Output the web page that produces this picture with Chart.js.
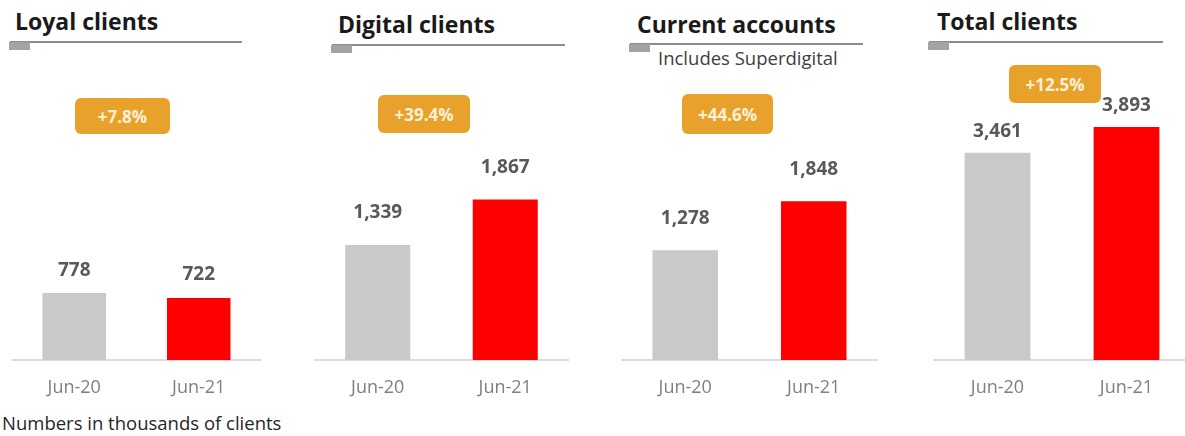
<!DOCTYPE html>
<html lang="en">
<head>
<meta charset="UTF-8">
<title>Clients - Jun-20 vs Jun-21</title>
<script src="https://cdn.jsdelivr.net/npm/chart.js"></script>
<style>
    html, body { margin: 0; padding: 0; background: #fff; }
    body {
        width: 1185px; height: 436px;
        position: relative; overflow: hidden;
        font-family: "Open Sans", sans-serif;
    }
    .title {
        position: absolute; font-size: 23px; font-weight: 700;
        line-height: 23px; color: #1a1a1a; white-space: nowrap;
    }
    .rule { position: absolute; height: 2px; background: #8c8c8c; }
    .mark { position: absolute; width: 21px; height: 8px; background: #a3a3a3; }
    .sub {
        position: absolute; font-size: 18.5px; line-height: 18px;
        color: #404040; white-space: nowrap;
    }
    .badge {
        position: absolute; background: #e8a22b; border-radius: 6px;
        color: #fdf0d8; font-weight: 700; font-size: 17px;
        display: flex; align-items: center; justify-content: center;
    }
    canvas.plot { position: absolute; top: 60px; }
    #note {
        position: absolute; left: 2px; top: 413px;
        font-size: 18.5px; line-height: 20px; color: #262626;
    }
</style>
</head>
<body>
<div id="note">Numbers in thousands of clients</div>

<script>
    // data
    const categories = ['Jun-20', 'Jun-21'];
    const panelTitles = ['Loyal clients', 'Digital clients', 'Current accounts', 'Total clients'];
    const subtitles = ['', '', 'Includes Superdigital', ''];
    const jun20 = [778, 1339, 1278, 3461];
    const jun21 = [722, 1867, 1848, 3893];
    const growth = ['+7.8%', '+39.4%', '+44.6%', '+12.5%'];
    // each panel has its own value axis
    const yMax = [3490, 3490, 3490, 5010];

    // layout of the four panels (pixels)
    const layout = [
        { left: 12,  width: 249, titleX: 15,  titleY: 10, ruleX: 10,  ruleW: 232, ruleY: 41, markY: 42, badge: [75, 98, 95, 36],   gap: 23 },
        { left: 314, width: 255, titleX: 338, titleY: 13, ruleX: 332, ruleW: 233, ruleY: 44, markY: 45, badge: [378, 95, 92, 38],  gap: 32 },
        { left: 621, width: 257, titleX: 637, titleY: 13, ruleX: 630, ruleW: 233, ruleY: 43, markY: 44, badge: [682, 94, 91, 40],  gap: 32 },
        { left: 933, width: 258, titleX: 937, titleY: 10, ruleX: 929, ruleW: 234, ruleY: 41, markY: 42, badge: [1009, 65, 92, 38], gap: 21 }
    ];

    function addDiv(cls, text, css) {
        const el = document.createElement('div');
        el.className = cls;
        if (text) el.textContent = text;
        Object.assign(el.style, css);
        document.body.appendChild(el);
        return el;
    }

    // numbers above the bars
    const valueLabels = {
        id: 'valueLabels',
        afterDatasetsDraw(chart, args, opts) {
            const ctx = chart.ctx;
            const ds = chart.data.datasets[0];
            ctx.save();
            ctx.font = 'bold 19px "Open Sans", sans-serif';
            ctx.fillStyle = '#595959';
            ctx.textAlign = 'center';
            ctx.textBaseline = 'middle';
            chart.getDatasetMeta(0).data.forEach((bar, i) => {
                ctx.fillText(ds.data[i].toLocaleString('en-US'), bar.x, bar.y - opts.gap);
            });
            ctx.restore();
        }
    };

    panelTitles.forEach((title, p) => {
        const L = layout[p];
        addDiv('title', title, { left: L.titleX + 'px', top: L.titleY + 'px' });
        addDiv('rule', '', { left: L.ruleX + 'px', top: L.ruleY + 'px', width: L.ruleW + 'px' });
        addDiv('mark', '', { left: (L.ruleX - 1) + 'px', top: L.markY + 'px' });
        if (subtitles[p]) {
            addDiv('sub', subtitles[p], { left: '658px', top: '49px' });
        }
        const [bx, by, bw, bh] = L.badge;
        addDiv('badge', growth[p], { left: bx + 'px', top: by + 'px', width: bw + 'px', height: bh + 'px' });

        const canvas = document.createElement('canvas');
        canvas.className = 'plot';
        canvas.width = L.width;
        canvas.height = 345;
        canvas.style.left = L.left + 'px';
        document.body.appendChild(canvas);

        new Chart(canvas, {
            type: 'bar',
            data: {
                labels: categories,
                datasets: [{
                    data: [jun20[p], jun21[p]],
                    backgroundColor: ['#c9c9c9', '#fe0000'],
                    borderWidth: 0,
                    barPercentage: 0.51,
                    categoryPercentage: 1
                }]
            },
            options: {
                responsive: false,
                animation: false,
                layout: { padding: 0 },
                plugins: {
                    legend: { display: false },
                    tooltip: { enabled: false },
                    valueLabels: { gap: L.gap }
                },
                scales: {
                    x: {
                        grid: { display: false, drawTicks: false },
                        border: { display: true, color: '#dcdcdc', width: 2 },
                        ticks: {
                            color: '#7f7f7f',
                            font: { family: '"Open Sans", sans-serif', size: 18 },
                            padding: 17
                        },
                        afterFit(scale) { scale.height = 45; }
                    },
                    y: {
                        display: false,
                        min: 0,
                        max: yMax[p]
                    }
                }
            },
            plugins: [valueLabels]
        });
    });
</script>
</body>
</html>
